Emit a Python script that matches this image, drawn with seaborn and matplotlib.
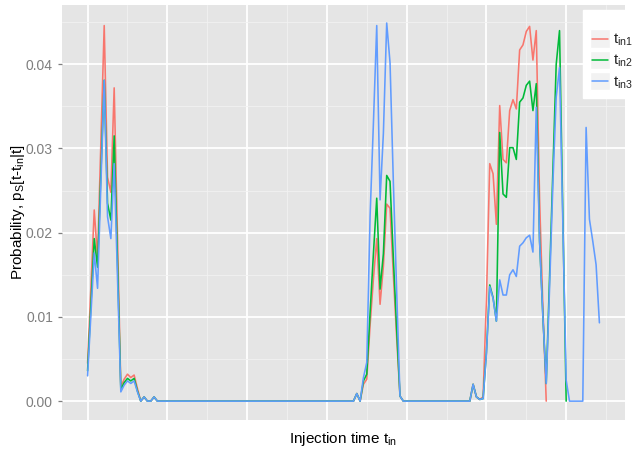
import numpy as np
import pandas as pd
import matplotlib
matplotlib.use("Agg")
import matplotlib.pyplot as plt
import seaborn as sns
from matplotlib.lines import Line2D
from matplotlib.patches import Rectangle
from matplotlib.legend_handler import HandlerBase

# ---------------- data ----------------
hours = list(range(155))

p_tin1 = [
    0.0045, 0.0136, 0.0227, 0.0170, 0.0310, 0.0446, 0.0266, 0.0248, 0.0372, 0.0195,
    0.0017, 0.0026, 0.0032, 0.0028, 0.0031, 0.0015, 0.0000, 0.0005, 0.0000, 0.0000,
    0.0005, 0.0000, 0.0000, 0.0000, 0.0000, 0.0000, 0.0000, 0.0000, 0.0000, 0.0000,
    0.0000, 0.0000, 0.0000, 0.0000, 0.0000, 0.0000, 0.0000, 0.0000, 0.0000, 0.0000,
    0.0000, 0.0000, 0.0000, 0.0000, 0.0000, 0.0000, 0.0000, 0.0000, 0.0000, 0.0000,
    0.0000, 0.0000, 0.0000, 0.0000, 0.0000, 0.0000, 0.0000, 0.0000, 0.0000, 0.0000,
    0.0000, 0.0000, 0.0000, 0.0000, 0.0000, 0.0000, 0.0000, 0.0000, 0.0000, 0.0000,
    0.0000, 0.0000, 0.0000, 0.0000, 0.0000, 0.0000, 0.0000, 0.0000, 0.0000, 0.0000,
    0.0000, 0.0009, 0.0000, 0.0020, 0.0026, 0.0090, 0.0145, 0.0193, 0.0115, 0.0160,
    0.0234, 0.0229, 0.0150, 0.0075, 0.0006, 0.0000, 0.0000, 0.0000, 0.0000, 0.0000,
    0.0000, 0.0000, 0.0000, 0.0000, 0.0000, 0.0000, 0.0000, 0.0000, 0.0000, 0.0000,
    0.0000, 0.0000, 0.0000, 0.0000, 0.0000, 0.0000, 0.0020, 0.0005, 0.0002, 0.0005,
    0.0120, 0.0282, 0.0270, 0.0210, 0.0351, 0.0287, 0.0283, 0.0345, 0.0358, 0.0347,
    0.0417, 0.0423, 0.0439, 0.0445, 0.0405, 0.0440, 0.0240, 0.0110, 0.0000, np.nan,
    np.nan, np.nan, np.nan, np.nan, np.nan, np.nan, np.nan, np.nan, np.nan, np.nan,
    np.nan, np.nan, np.nan, np.nan, np.nan,
]

p_tin2 = [
    0.0036, 0.0115, 0.0193, 0.0159, 0.0270, 0.0381, 0.0235, 0.0215, 0.0315, 0.0165,
    0.0014, 0.0022, 0.0027, 0.0024, 0.0027, 0.0012, 0.0000, 0.0005, 0.0000, 0.0000,
    0.0005, 0.0000, 0.0000, 0.0000, 0.0000, 0.0000, 0.0000, 0.0000, 0.0000, 0.0000,
    0.0000, 0.0000, 0.0000, 0.0000, 0.0000, 0.0000, 0.0000, 0.0000, 0.0000, 0.0000,
    0.0000, 0.0000, 0.0000, 0.0000, 0.0000, 0.0000, 0.0000, 0.0000, 0.0000, 0.0000,
    0.0000, 0.0000, 0.0000, 0.0000, 0.0000, 0.0000, 0.0000, 0.0000, 0.0000, 0.0000,
    0.0000, 0.0000, 0.0000, 0.0000, 0.0000, 0.0000, 0.0000, 0.0000, 0.0000, 0.0000,
    0.0000, 0.0000, 0.0000, 0.0000, 0.0000, 0.0000, 0.0000, 0.0000, 0.0000, 0.0000,
    0.0000, 0.0009, 0.0000, 0.0024, 0.0032, 0.0105, 0.0175, 0.0241, 0.0133, 0.0175,
    0.0268, 0.0261, 0.0170, 0.0085, 0.0006, 0.0000, 0.0000, 0.0000, 0.0000, 0.0000,
    0.0000, 0.0000, 0.0000, 0.0000, 0.0000, 0.0000, 0.0000, 0.0000, 0.0000, 0.0000,
    0.0000, 0.0000, 0.0000, 0.0000, 0.0000, 0.0000, 0.0020, 0.0005, 0.0002, 0.0003,
    0.0058, 0.0138, 0.0123, 0.0095, 0.0319, 0.0246, 0.0242, 0.0301, 0.0301, 0.0287,
    0.0355, 0.0360, 0.0375, 0.0380, 0.0345, 0.0377, 0.0190, 0.0100, 0.0021, 0.0146,
    0.0274, 0.0400, 0.0440, 0.0220, 0.0000, np.nan, np.nan, np.nan, np.nan, np.nan,
    np.nan, np.nan, np.nan, np.nan, np.nan,
]

p_tin3 = [
    0.0030, 0.0103, 0.0176, 0.0134, 0.0257, 0.0381, 0.0219, 0.0193, 0.0282, 0.0147,
    0.0011, 0.0019, 0.0024, 0.0021, 0.0024, 0.0011, 0.0000, 0.0005, 0.0000, 0.0000,
    0.0005, 0.0000, 0.0000, 0.0000, 0.0000, 0.0000, 0.0000, 0.0000, 0.0000, 0.0000,
    0.0000, 0.0000, 0.0000, 0.0000, 0.0000, 0.0000, 0.0000, 0.0000, 0.0000, 0.0000,
    0.0000, 0.0000, 0.0000, 0.0000, 0.0000, 0.0000, 0.0000, 0.0000, 0.0000, 0.0000,
    0.0000, 0.0000, 0.0000, 0.0000, 0.0000, 0.0000, 0.0000, 0.0000, 0.0000, 0.0000,
    0.0000, 0.0000, 0.0000, 0.0000, 0.0000, 0.0000, 0.0000, 0.0000, 0.0000, 0.0000,
    0.0000, 0.0000, 0.0000, 0.0000, 0.0000, 0.0000, 0.0000, 0.0000, 0.0000, 0.0000,
    0.0000, 0.0009, 0.0000, 0.0028, 0.0046, 0.0220, 0.0330, 0.0446, 0.0239, 0.0318,
    0.0449, 0.0402, 0.0260, 0.0130, 0.0006, 0.0000, 0.0000, 0.0000, 0.0000, 0.0000,
    0.0000, 0.0000, 0.0000, 0.0000, 0.0000, 0.0000, 0.0000, 0.0000, 0.0000, 0.0000,
    0.0000, 0.0000, 0.0000, 0.0000, 0.0000, 0.0000, 0.0020, 0.0005, 0.0002, 0.0003,
    0.0056, 0.0136, 0.0122, 0.0095, 0.0144, 0.0126, 0.0126, 0.0150, 0.0156, 0.0148,
    0.0184, 0.0188, 0.0194, 0.0197, 0.0177, 0.0349, 0.0190, 0.0100, 0.0021, 0.0134,
    0.0258, 0.0361, 0.0396, 0.0210, 0.0025, 0.0000, 0.0000, 0.0000, 0.0000, 0.0000,
    0.0325, 0.0216, 0.0190, 0.0162, 0.0093,
]

series_labels = [r"t$_{\mathrm{in1}}$", r"t$_{\mathrm{in2}}$", r"t$_{\mathrm{in3}}$"]
series_colors = ["#F8766D", "#00BA38", "#619CFF"]
y_ticks = [0.00, 0.01, 0.02, 0.03, 0.04]
y_tick_labels = ["0.00", "0.01", "0.02", "0.03", "0.04"]

# ---------------- build long table ----------------
frames = []
for lab, vals in zip(series_labels, [p_tin1, p_tin2, p_tin3]):
    frames.append(pd.DataFrame({"t": hours, "p": vals, "series": lab}))
df = pd.concat(frames, ignore_index=True).dropna()

# ---------------- style ----------------
sns.set_theme(style="white")
plt.rcParams["font.family"] = ["Liberation Sans", "DejaVu Sans"]
plt.rcParams["mathtext.fontset"] = "custom"
plt.rcParams["mathtext.rm"] = "Liberation Sans"
plt.rcParams["mathtext.it"] = "Liberation Sans:italic"
plt.rcParams["mathtext.bf"] = "Liberation Sans:bold"

W, H = 635, 451
fig = plt.figure(figsize=(W / 100, H / 100), dpi=100)
fig.patch.set_facecolor("white")
ax = fig.add_axes([62 / W, 1 - 420 / H, (625 - 62) / W, (420 - 5) / H])
ax.set_facecolor("#E5E5E5")

sns.lineplot(data=df, x="t", y="p", hue="series", palette=series_colors,
             hue_order=series_labels, estimator=None, sort=False,
             linewidth=1.15, legend=False, ax=ax)

ax.set_xlim(-7.7, 161.7)
ax.set_ylim(-0.00224, 0.04704)

ax.set_xticks(np.arange(0, 145, 24))
ax.set_xticks(np.arange(12, 160, 24), minor=True)
ax.set_xticklabels([])
ax.set_yticks(y_ticks)
ax.set_yticklabels(y_tick_labels)
ax.set_yticks(np.arange(0.005, 0.046, 0.01), minor=True)

ax.grid(which="major", color="white", linewidth=1.3)
ax.grid(which="minor", color="#F2F2F2", linewidth=0.6)
ax.set_axisbelow(True)
for s in ax.spines.values():
    s.set_visible(False)

ax.tick_params(axis="x", which="both", length=0)
ax.tick_params(axis="y", which="major", length=3, width=0.9, color="#7F7F7F",
               labelcolor="#7F7F7F", labelsize=10, pad=3.5, left=True)
ax.tick_params(axis="y", which="minor", length=0)

ax.set_xlabel(r"Injection time t$_{\mathrm{in}}$", fontsize=11, color="black")
ax.xaxis.set_label_coords(0.5, -0.024)
ax.set_ylabel(r"Probability, p$_{\mathrm{S}}$[t-t$_{\mathrm{in}}$|t]", fontsize=11,
              color="black")
ax.yaxis.set_label_coords(-0.062, 0.5)


# ---------------- legend with grey key backgrounds ----------------
class KeyHandler(HandlerBase):
    def create_artists(self, legend, orig_handle, xdescent, ydescent, width,
                       height, fontsize, trans):
        bg = Rectangle((-xdescent, -ydescent - 0.15 * height), width, height * 1.3,
                       facecolor="#F2F2F2", edgecolor="white", linewidth=1.0,
                       transform=trans)
        y = height / 2 - ydescent
        ln = Line2D([-xdescent + 0.1 * width, -xdescent + 0.9 * width], [y, y],
                    color=orig_handle.get_color(),
                    linewidth=orig_handle.get_linewidth(), transform=trans)
        return [bg, ln]


handles = [Line2D([], [], color=c, linewidth=1.1) for c in series_colors]
leg = fig.legend(handles, series_labels, loc="upper left",
                 bbox_to_anchor=(583 / W, 1 - 10 / H), bbox_transform=fig.transFigure,
                 handler_map={Line2D: KeyHandler()}, fontsize=11,
                 title=" ", title_fontsize=7, frameon=True, fancybox=False,
                 framealpha=1, facecolor="white", edgecolor="white",
                 borderpad=0.45, handlelength=1.3, handleheight=1.05,
                 handletextpad=0.2, labelspacing=0.3, borderaxespad=0)

fig.savefig("out.png", dpi=100, facecolor="white")
